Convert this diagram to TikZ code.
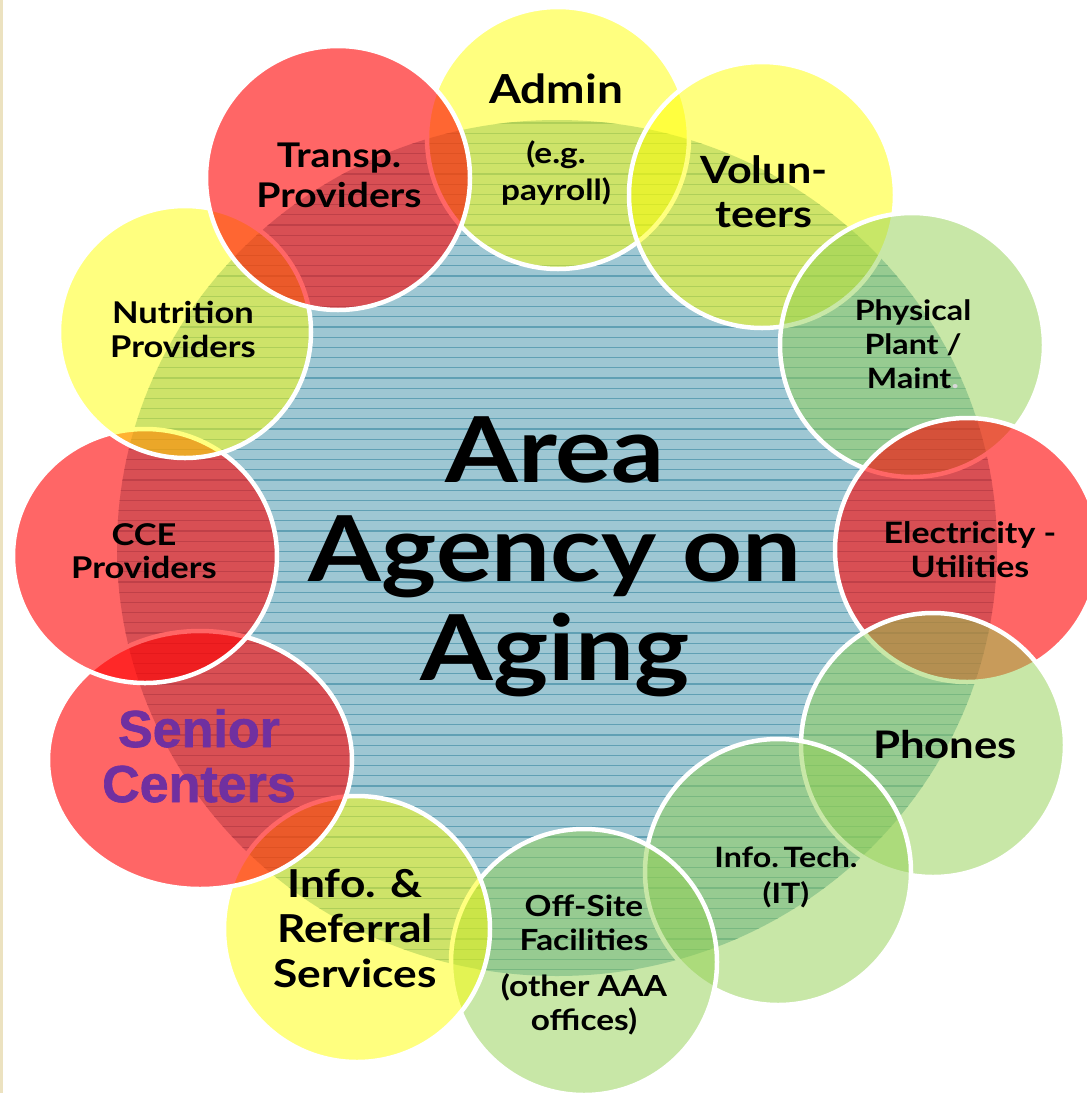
\documentclass[tikz,border=0pt]{standalone}
\usepackage{fontspec}
\setmainfont{Lato}[FakeStretch=1.15]
\newfontfamily\arialfont{Liberation Sans}[BoldFeatures={FakeBold=1.3}]
\definecolor{hubblue}{RGB}{158, 199, 211}
\definecolor{hubline}{RGB}{ 96, 160, 180}
\definecolor{sunyellow}{RGB}{255, 255, 0}
\definecolor{brightred}{RGB}{255, 0, 0}
\definecolor{leafgreen}{RGB}{146, 208, 80}
\definecolor{plum}{RGB}{112, 48, 160}
\definecolor{slideedge}{RGB}{236, 226, 192}
\tikzset{
  bubble/.style={draw=white, line width=4.5pt, fill opacity=0.5},
  redbubble/.style={bubble, fill=brightred, fill opacity=0.6},
  lbl/.style={align=center, anchor=base, inner sep=0pt, font=\bfseries},
}

\begin{document}
\begin{tikzpicture}[x=1pt, y=-1pt]
            \useasboundingbox (0,0) rectangle (1087,1093);
            \clip (0,0) rectangle (1087,1093);
            \fill[white]     (0,0) rectangle (1087,1093);
            \fill[slideedge] (0,0) rectangle (3,1093);
            % hub with its ruled lines
            \fill[hubblue] (557,548) ellipse (440 and 428);
            \begin{scope}
                \clip (557,548) ellipse (440 and 428);
                \foreach \k in {0,...,84}
                    \draw[hubline, line width=1.1pt] (110,{123+10.2*\k}) -- (1000,{123+10.2*\k});
            \end{scope}
            % bubbles, clockwise from the top
            \filldraw[bubble, fill=sunyellow] (558,138) circle (131);
            \filldraw[bubble, fill=sunyellow] (762,195) circle (133);
            \filldraw[bubble, fill=leafgreen] (912,345) circle (132);
            \filldraw[redbubble]              (967,550) circle (132);
            \filldraw[bubble, fill=leafgreen] (933,745) circle (132);
            \filldraw[bubble, fill=leafgreen] (778,872) circle (133);
            \filldraw[bubble, fill=leafgreen] (584,962) circle (133);
            \filldraw[bubble, fill=sunyellow] (357,929) circle (133);
            \filldraw[redbubble]              (200,760) ellipse (152 and 129);
            \filldraw[redbubble]              (145,556) ellipse (132 and 127);
            \filldraw[bubble, fill=sunyellow] (185,332) circle (126);
            \filldraw[redbubble]              (338,178) circle (132);
            % labels (anchored on the baseline of their last line)
            \node[lbl, font=\fontsize{91}{99}\selectfont\bfseries] (hub-t) at (555,680) {Area\\Agency on\\Aging};
            \node[lbl, font=\fontsize{40}{44}\selectfont\bfseries] (admin-t) at (556,103) {Admin};
            \node[lbl, font=\fontsize{29}{37}\selectfont\bfseries] (payroll-t) at (556,200) {(e.g.\\payroll)};
            \node[lbl, font=\fontsize{37.5}{44}\selectfont\bfseries] (volun-t) at (764,227) {Volun-\\teers};
            \node[lbl, font=\fontsize{28}{34}\selectfont\bfseries] (plant-t) at (913,388) {Physical\\Plant /\\Maint\textcolor{white!85!black}{.}};
            \node[lbl, font=\fontsize{29.5}{34}\selectfont\bfseries] (power-t) at (970,577) {Electricity -\\Utilities};
            \node[lbl, font=\fontsize{38}{44}\selectfont\bfseries] (phones-t) at (945,758) {Phones};
            \node[lbl, font=\fontsize{28}{36}\selectfont\bfseries] (it-t) at (786,903) {Info.\,Tech.\\(IT)};
            \node[lbl, font=\fontsize{29}{34}\selectfont\bfseries] (offsite-t) at (584,1030) {Off-Site\\Facilities\\[12pt](other AAA\\offices)};
            \node[lbl, font=\fontsize{38.5}{45}\selectfont\bfseries] (referral-t) at (355,987) {Info. \&\\Referral\\Services};
            \node[lbl, font=\fontsize{52}{55}\selectfont\arialfont\bfseries, text=plum] (senior-t) at (199,802) {Senior\\Centers};
            \node[lbl, font=\fontsize{30}{33}\selectfont\bfseries] (cce-t) at (144,578) {CCE\\Providers};
            \node[lbl, font=\fontsize{30}{34}\selectfont\bfseries] (nutrition-t) at (183,357) {Nutrition\\Providers};
            \node[lbl, font=\fontsize{34}{40}\selectfont\bfseries] (transp-t) at (339,207) {Transp.\\Providers};
\end{tikzpicture}
\end{document}
